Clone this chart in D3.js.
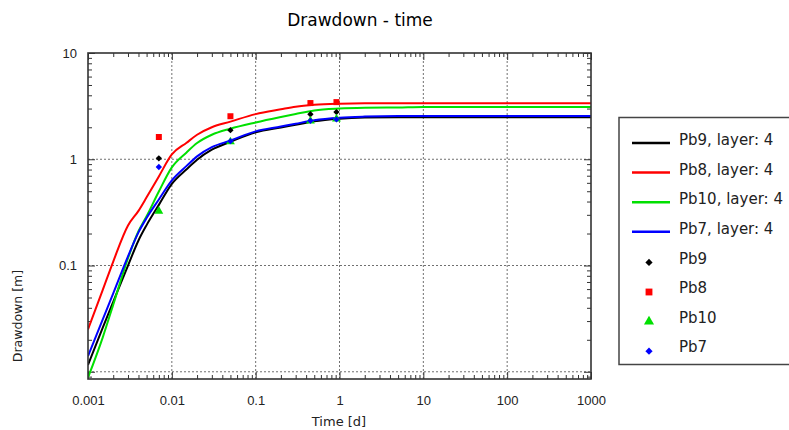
<!DOCTYPE html>
<html>
<head>
<meta charset="utf-8">
<script src="https://cdn.jsdelivr.net/npm/d3@7"></script>
<style>
  body { margin: 0; background: #fff; }
  svg { display: block; font-family: "DejaVu Sans", Verdana, sans-serif; }
</style>
</head>
<body>
<svg id="chart" width="789" height="430"></svg>
<script>
// curve sample times [d]
const times = [0.001, 0.0015, 0.002, 0.003, 0.004, 0.005, 0.007, 0.01, 0.015, 0.02, 0.03, 0.05,
  0.1, 0.2, 0.3, 0.5, 1, 2, 5, 10, 100, 1000];

// modelled drawdown [m], one value per time above
const pb9Curve  = [0.0116, 0.026, 0.0456, 0.100, 0.172, 0.240, 0.372, 0.586, 0.805, 0.99, 1.23, 1.46,
  1.79, 1.99, 2.11, 2.28, 2.41, 2.47, 2.49, 2.49, 2.49, 2.49];
const pb8Curve  = [0.025, 0.059, 0.109, 0.238, 0.327, 0.438, 0.69, 1.11, 1.43, 1.70, 2.0, 2.26,
  2.66, 2.95, 3.12, 3.25, 3.33, 3.36, 3.36, 3.36, 3.36, 3.36];
const pb10Curve = [0.0088, 0.0211, 0.0428, 0.117, 0.210, 0.291, 0.497, 0.839, 1.16, 1.42, 1.70, 1.94,
  2.22, 2.50, 2.67, 2.88, 3.0, 3.05, 3.07, 3.1, 3.1, 3.1];
const pb7Curve  = [0.014, 0.0311, 0.0547, 0.122, 0.205, 0.280, 0.418, 0.632, 0.866, 1.065, 1.30, 1.50,
  1.83, 2.03, 2.16, 2.33, 2.46, 2.52, 2.55, 2.55, 2.55, 2.55];

// observed drawdown
const obsTimes = [0.007, 0.05, 0.45, 0.92];
const pb9Obs  = [1.02, 1.88, 2.65, 2.78];
const pb8Obs  = [1.62, 2.54, 3.38, 3.45];
const pb10Obs = [0.325, 1.46, 2.30, 2.40];
const pb7Obs  = [0.846, 1.48, 2.30, 2.37];

const xTickValues = [0.001, 0.01, 0.1, 1, 10, 100, 1000];
const xTickLabels = ["0.001", "0.01", "0.1", "1", "10", "100", "1000"];
const yTickValues = [0.01, 0.1, 1, 10];
const yTickLabels = ["", "0.1", "1", "10"];

// diamonds are squares turned by 45 degrees
const series = [
  { name: "Pb9",  curve: pb9Curve,  obs: pb9Obs,  color: "#000000", symbol: d3.symbolSquare,   size: 20, rot: 45 },
  { name: "Pb8",  curve: pb8Curve,  obs: pb8Obs,  color: "#ff0000", symbol: d3.symbolSquare,   size: 36, rot: 0 },
  { name: "Pb10", curve: pb10Curve, obs: pb10Obs, color: "#00e000", symbol: d3.symbolTriangle, size: 34, rot: 0 },
  { name: "Pb7",  curve: pb7Curve,  obs: pb7Obs,  color: "#0000ff", symbol: d3.symbolSquare,   size: 20, rot: 45 }
];

const svg = d3.select("#chart");
const pLeft = 88, pRight = 591, pTop = 53, pBottom = 379;

const x = d3.scaleLog().domain([0.001, 1000]).range([pLeft, pRight]);
const y = d3.scaleLog().domain([0.00855, 10]).range([pBottom, pTop]);

// title
svg.append("text")
  .attr("x", 360).attr("y", 26)
  .attr("text-anchor", "middle")
  .style("font-size", "17px")
  .text("Drawdown - time");

// grid
const grid = svg.append("g").attr("stroke", "#707070").attr("stroke-dasharray", "2,2").attr("stroke-width", 1);
grid.selectAll(".gx").data(xTickValues.slice(1, -1)).enter().append("line")
  .attr("x1", d => x(d)).attr("x2", d => x(d)).attr("y1", pTop).attr("y2", pBottom);
grid.selectAll(".gy").data([0.01, 0.1, 1]).enter().append("line")
  .attr("y1", d => y(d)).attr("y2", d => y(d)).attr("x1", pLeft).attr("x2", pRight);

// minor ticks
const xMinor = x.ticks().filter(d => !xTickValues.some(v => Math.abs(v - d) < 1e-12));
const yMinor = y.ticks().filter(d => !yTickValues.some(v => Math.abs(v - d) < 1e-9));

function styleAxis(g) {
  g.select(".domain").remove();
  g.selectAll("line").attr("stroke", "#333");
  g.selectAll("text").attr("fill", "#222").style("font-size", "13px");
}

svg.append("g").attr("transform", `translate(0,${pBottom})`)
  .call(d3.axisBottom(x).tickValues(xTickValues).tickFormat((d, i) => xTickLabels[i]).tickSize(-7).tickPadding(17))
  .call(styleAxis);
svg.append("g").attr("transform", `translate(0,${pBottom})`)
  .call(d3.axisBottom(x).tickValues(xMinor).tickFormat("").tickSize(-4)).call(styleAxis);
svg.append("g").attr("transform", `translate(0,${pTop})`)
  .call(d3.axisTop(x).tickValues(xTickValues).tickFormat("").tickSize(-7)).call(styleAxis);
svg.append("g").attr("transform", `translate(0,${pTop})`)
  .call(d3.axisTop(x).tickValues(xMinor).tickFormat("").tickSize(-4)).call(styleAxis);

svg.append("g").attr("transform", `translate(${pLeft},0)`)
  .call(d3.axisLeft(y).tickValues(yTickValues).tickFormat((d, i) => yTickLabels[i]).tickSize(-7).tickPadding(11))
  .call(styleAxis);
svg.append("g").attr("transform", `translate(${pLeft},0)`)
  .call(d3.axisLeft(y).tickValues(yMinor).tickFormat("").tickSize(-4)).call(styleAxis);
svg.append("g").attr("transform", `translate(${pRight},0)`)
  .call(d3.axisRight(y).tickValues(yTickValues).tickFormat("").tickSize(-7)).call(styleAxis);
svg.append("g").attr("transform", `translate(${pRight},0)`)
  .call(d3.axisRight(y).tickValues(yMinor).tickFormat("").tickSize(-4)).call(styleAxis);

// axis titles
svg.append("text")
  .attr("x", 339).attr("y", 426)
  .attr("text-anchor", "middle")
  .style("font-size", "13px").attr("fill", "#222")
  .text("Time [d]");
svg.append("text")
  .attr("transform", "translate(22,316) rotate(-90)")
  .attr("text-anchor", "middle")
  .style("font-size", "12.5px").attr("fill", "#222")
  .text("Drawdown [m]");

// clip
svg.append("clipPath").attr("id", "plotClip")
  .append("rect").attr("x", pLeft).attr("y", pTop).attr("width", pRight - pLeft).attr("height", pBottom - pTop);

const plot = svg.append("g").attr("clip-path", "url(#plotClip)");

const line = d3.line()
  .x(d => x(d[0]))
  .y(d => y(d[1]))
  .curve(d3.curveMonotoneX);

series.forEach(s => {
  plot.append("path")
    .datum(times.map((t, i) => [t, s.curve[i]]))
    .attr("fill", "none")
    .attr("stroke", s.color)
    .attr("stroke-width", 2)
    .attr("d", line);
});

series.forEach(s => {
  plot.selectAll(null)
    .data(obsTimes.map((t, i) => [t, s.obs[i]]))
    .enter().append("path")
    .attr("transform", d => `translate(${x(d[0])},${y(d[1])}) rotate(${s.rot})`)
    .attr("d", d3.symbol().type(s.symbol).size(s.size))
    .attr("fill", s.color);
});

// frame
svg.append("rect")
  .attr("x", pLeft).attr("y", pTop).attr("width", pRight - pLeft).attr("height", pBottom - pTop)
  .attr("fill", "none").attr("stroke", "#333").attr("stroke-width", 1.6);

// legend
const legend = svg.append("g");
legend.append("rect")
  .attr("x", 619).attr("y", 117.5).attr("width", 200).attr("height", 247)
  .attr("fill", "#fff").attr("stroke", "#444").attr("stroke-width", 1.5);

const rowY = i => 140 + i * 29.6;

series.forEach((s, i) => {
  legend.append("line")
    .attr("x1", 632).attr("x2", 670).attr("y1", rowY(i) + 3).attr("y2", rowY(i) + 3)
    .attr("stroke", s.color).attr("stroke-width", 2.5);
  legend.append("text")
    .attr("x", 679).attr("y", rowY(i)).attr("dy", "0.35em")
    .style("font-size", "15px").attr("fill", "#222")
    .text(`${s.name}, layer: 4`);
});

series.forEach((s, j) => {
  const i = j + 4;
  legend.append("path")
    .attr("transform", `translate(649,${rowY(i) + 4}) rotate(${s.rot})`)
    .attr("d", d3.symbol().type(s.symbol).size(s.size * 1.3))
    .attr("fill", s.color);
  legend.append("text")
    .attr("x", 679).attr("y", rowY(i)).attr("dy", "0.35em")
    .style("font-size", "15px").attr("fill", "#222")
    .text(s.name);
});
</script>
</body>
</html>
